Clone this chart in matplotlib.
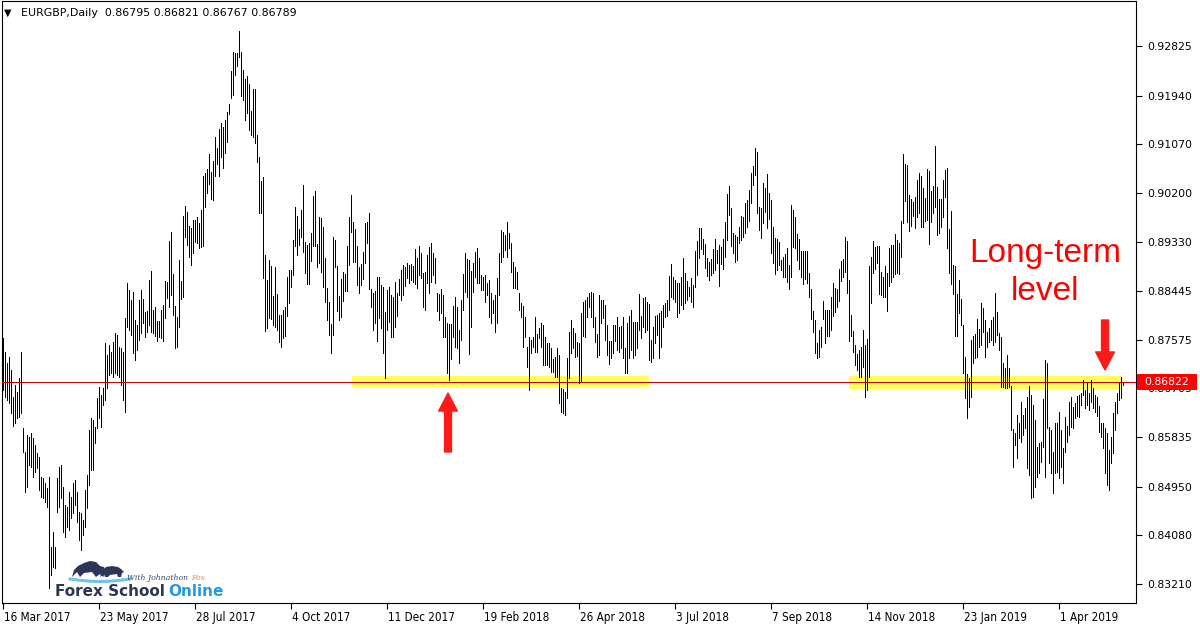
import numpy as np
import matplotlib.pyplot as plt
import matplotlib.transforms as mtransforms
from matplotlib import font_manager
from matplotlib.patches import Rectangle, Polygon

# EURGBP daily bars (high / low per bar)
highs = [
    .8761, .8736, .8716, .8727, .8703, .8655, .8677, .8664, .8689, .8736,
    .8600, .8557, .8587, .8584, .8591, .8582, .8569, .8555, .8548, .8512,
    .8510, .8501, .8493, .8512, .8387, .8414, .8387, .8510, .8530, .8534,
    .8494, .8462, .8459, .8485, .8477, .8501, .8507, .8485, .8450, .8448,
    .8435, .8489, .8516, .8596, .8618, .8614, .8602, .8653, .8673, .8659,
    .8671, .8752, .8730, .8748, .8736, .8754, .8770, .8766, .8745, .8743,
    .8736, .8796, .8859, .8846, .8829, .8843, .8793, .8784, .8829,
    .8846, .8830, .8807, .8809, .8864, .8880, .8811, .8816, .8791, .8791, .8811,
    .8820, .8862, .8861, .8934, .8950, .8875, .8818, .8798, .8900, .8862,
    .8979, .8997, .8986, .8961, .8957, .8972, .8972, .8977, .8966, .8989,
    .9050, .9056, .9063, .9090, .9057, .9077, .9120, .9100, .9134, .9145,
    .9138, .9150, .9165, .9179, .9238, .9272, .9270, .9270, .9309, .9272,
    .9240, .9224, .9229, .9215, .9166, .9206, .9206, .9124, .9084, .9041,
    .9048, .8909, .8864, .8900, .8889, .8836, .8888, .8839, .8802,
    .8802, .8811, .8816, .8870, .8882, .8882, .8936, .8995, .8979, .8955, .8989,
    .9034, .8932, .8927, .8930, .8948, .9014, .9023, .8929, .8977, .8975,
    .8959, .8904, .8850, .8825, .8786, .8941, .8936, .8889, .8836, .8866,
    .8879, .8875, .8925, .8977, .9016, .8968, .8955, .8925, .8888, .8893,
    .8914, .8966, .8968, .8984, .8848, .8841, .8845, .8870, .8870, .8855,
    .8852, .8807, .8846, .8852, .8837, .8834, .8861, .8841, .8866, .8882,
    .8891, .8888, .8895, .8891, .8893, .8889, .8920, .8904, .8925,
    .8913, .8877, .8879, .8909, .8923, .8930, .8913, .8904, .8841, .8839, .8848,
    .8837, .8798, .8787, .8786, .8786, .8818, .8834, .8816, .8775, .8829,
    .8875, .8913, .8902, .8900, .8880, .8895, .8914, .8922, .8904, .8873,
    .8870, .8873, .8859, .8864, .8841, .8829, .8837, .8868, .8913, .8954,
    .8950, .8945, .8968, .8948, .8930, .8896, .8888, .8879, .8841, .8823,
    .8818, .8798, .8745, .8762, .8757, .8762, .8798, .8768, .8779, .8787,
    .8784, .8762, .8752, .8752, .8743, .8723, .8727, .8743, .8730,
    .8671, .8670, .8664, .8725, .8771, .8793, .8779, .8770, .8754, .8752, .8805,
    .8825, .8829, .8834, .8841, .8843, .8841, .8798, .8768, .8837, .8829,
    .8829, .8820, .8784, .8755, .8755, .8784, .8784, .8798, .8780, .8782,
    .8798, .8743, .8787, .8800, .8811, .8789, .8789, .8789, .8839, .8800,
    .8832, .8834, .8825, .8822, .8757, .8780, .8800, .8802, .8805, .8809,
    .8820, .8823, .8829, .8871, .8893, .8870, .8864, .8859, .8859, .8870,
    .8904, .8877, .8862, .8852, .8868, .8855, .8916, .8934, .8957,
    .8957, .8938, .8929, .8904, .8896, .8902, .8920, .8938, .8918, .8927, .8923,
    .8938, .8968, .9018, .9032, .8993, .8948, .8945, .8941, .8959, .8979,
    .8977, .9002, .9007, .9025, .9056, .9068, .9100, .9093, .8995, .8993,
    .9038, .9029, .9054, .9020, .9007, .8959, .8939, .8938, .8932, .8900,
    .8905, .8911, .8922, .8891, .8998, .8989, .8977, .8947, .8938, .8916,
    .8916, .8916, .8916, .8877, .8848, .8809, .8793, .8752, .8775, .8780,
    .8827, .8811, .8811, .8811, .8834, .8859, .8850, .8848, .8884,
    .8898, .8902, .8941, .8934, .8864, .8802, .8773, .8748, .8732, .8739, .8745,
    .8775, .8748, .8759, .8889, .8905, .8934, .8923, .8925, .8925, .8879,
    .8870, .8889, .8877, .8922, .8927, .8927, .8947, .8936, .8930, .8970,
    .9090, .9072, .9070, .9016, .9009, .9004, .9013, .9043, .9056, .9050,
    .9029, .9011, .9063, .9059, .9023, .9032, .9104, .9031, .9009, .9009,
    .9043, .9061, .9065, .8955, .8988, .8891, .8889, .8839, .8864, .8830,
    .8784, .8727, .8696, .8689, .8757, .8764, .8768, .8795, .8777,
    .8823, .8814, .8793, .8771, .8779, .8793, .8798, .8841, .8807, .8770, .8762,
    .8716, .8707, .8730, .8707, .8675, .8598, .8591, .8623, .8609, .8646,
    .8623, .8636, .8655, .8675, .8659, .8641, .8614, .8566, .8573, .8575,
    .8652, .8721, .8716, .8602, .8596, .8557, .8609, .8609, .8628, .8596,
    .8564, .8620, .8603, .8646, .8655, .8637, .8644, .8657, .8659, .8662,
    .8686, .8668, .8680, .8662, .8686, .8671, .8659, .8655, .8639, .8609,
    .8609, .8600, .8591, .8561, .8584, .8627, .8646, .8662, .8680, .8691, .86821,
]
lows = [
    .8668, .8655, .8650, .8644, .8627, .8603, .8609, .8618, .8620, .8627,
    .8557, .8485, .8494, .8534, .8530, .8512, .8521, .8528, .8489, .8477,
    .8475, .8468, .8459, .8314, .8337, .8351, .8350, .8450, .8459, .8475,
    .8414, .8405, .8423, .8418, .8439, .8448, .8462, .8432, .8400, .8382,
    .8409, .8423, .8457, .8498, .8525, .8525, .8573, .8600, .8618, .8602,
    .8641, .8650, .8671, .8695, .8698, .8691, .8698, .8695, .8691, .8677,
    .8650, .8628, .8780, .8775, .8766, .8734, .8721, .8739, .8757,
    .8770, .8787, .8762, .8771, .8784, .8771, .8770, .8764, .8755, .8762, .8761,
    .8755, .8796, .8832, .8816, .8837, .8802, .8743, .8745, .8780, .8830,
    .8834, .8941, .8927, .8905, .8891, .8913, .8932, .8930, .8922, .8923,
    .8925, .8995, .9020, .9036, .9009, .9007, .9050, .9072, .9050, .9084,
    .9065, .9091, .9111, .9161, .9190, .9195, .9231, .9247, .9263, .9193,
    .9186, .9150, .9163, .9132, .9124, .9120, .9109, .9075, .8984, .8984,
    .8868, .8773, .8779, .8796, .8795, .8784, .8780, .8775, .8754,
    .8745, .8761, .8764, .8800, .8823, .8852, .8873, .8925, .8909, .8927, .8941,
    .8914, .8877, .8857, .8857, .8898, .8925, .8925, .8888, .8895, .8879,
    .8852, .8825, .8793, .8766, .8734, .8766, .8888, .8809, .8793, .8798,
    .8827, .8845, .8845, .8891, .8950, .8896, .8896, .8855, .8841, .8855,
    .8866, .8895, .8930, .8848, .8816, .8775, .8787, .8755, .8796, .8779,
    .8734, .8689, .8775, .8789, .8762, .8762, .8780, .8800, .8837, .8829,
    .8837, .8854, .8868, .8859, .8864, .8861, .8857, .8850, .8873,
    .8868, .8816, .8811, .8859, .8841, .8861, .8873, .8859, .8809, .8793, .8805,
    .8762, .8762, .8698, .8686, .8723, .8762, .8745, .8743, .8716, .8757,
    .8811, .8843, .8834, .8732, .8780, .8843, .8870, .8859, .8859, .8846,
    .8846, .8825, .8837, .8798, .8787, .8805, .8771, .8787, .8837, .8896,
    .8905, .8918, .8905, .8922, .8879, .8850, .8850, .8848, .8811, .8798,
    .8745, .8762, .8709, .8668, .8734, .8745, .8736, .8736, .8761, .8745,
    .8712, .8712, .8712, .8709, .8700, .8700, .8691, .8691, .8644,
    .8628, .8627, .8623, .8653, .8689, .8734, .8743, .8727, .8729, .8680, .8682,
    .8764, .8762, .8798, .8816, .8798, .8780, .8754, .8727, .8730, .8787,
    .8796, .8757, .8730, .8714, .8725, .8734, .8755, .8739, .8736, .8743,
    .8725, .8698, .8698, .8725, .8739, .8725, .8730, .8743, .8775, .8761,
    .8780, .8771, .8775, .8721, .8718, .8725, .8752, .8766, .8725, .8745,
    .8780, .8798, .8800, .8811, .8834, .8830, .8825, .8798, .8805, .8820,
    .8812, .8823, .8829, .8836, .8825, .8816, .8852, .8873, .8904,
    .8920, .8911, .8886, .8871, .8864, .8873, .8877, .8882, .8895, .8854, .8893,
    .8884, .8905, .8936, .8981, .8925, .8913, .8896, .8900, .8930, .8936,
    .8941, .8948, .8959, .8970, .9002, .9034, .9052, .8984, .8954, .8939,
    .8966, .8986, .8957, .8973, .8913, .8895, .8875, .8882, .8891, .8882,
    .8870, .8870, .8861, .8848, .8870, .8923, .8922, .8900, .8884, .8870,
    .8857, .8866, .8859, .8834, .8795, .8771, .8734, .8725, .8727, .8745,
    .8795, .8752, .8764, .8764, .8775, .8800, .8807, .8816, .8827,
    .8862, .8870, .8879, .8841, .8755, .8764, .8736, .8712, .8703, .8691, .8691,
    .8709, .8655, .8668, .8691, .8823, .8877, .8884, .8895, .8839, .8837,
    .8834, .8834, .8809, .8854, .8861, .8870, .8875, .8877, .8875, .8905,
    .8966, .9006, .8968, .8952, .8961, .8979, .8957, .8977, .8984, .8959,
    .8959, .8970, .8972, .8929, .8968, .8984, .8995, .8945, .8948, .8959,
    .8977, .9013, .8922, .8877, .8857, .8839, .8764, .8764, .8805, .8784,
    .8698, .8653, .8618, .8637, .8655, .8716, .8725, .8727, .8745,
    .8748, .8771, .8727, .8745, .8754, .8757, .8748, .8754, .8766, .8739, .8673,
    .8673, .8671, .8671, .8673, .8596, .8530, .8569, .8546, .8582, .8575,
    .8587, .8600, .8528, .8516, .8475, .8477, .8494, .8512, .8519, .8539,
    .8566, .8512, .8600, .8537, .8519, .8484, .8519, .8521, .8510, .8530,
    .8501, .8557, .8575, .8587, .8602, .8600, .8618, .8621, .8620, .8641,
    .8659, .8636, .8641, .8632, .8646, .8636, .8628, .8621, .8593, .8584,
    .8564, .8519, .8498, .8489, .8537, .8555, .8596, .8627, .8650, .8653, .86767,
]
assert len(highs) == len(lows) == 561, (len(highs), len(lows))

date_labels = ['16 Mar 2017', '23 May 2017', '28 Jul 2017', '4 Oct 2017',
               '11 Dec 2017', '19 Feb 2018', '26 Apr 2018', '3 Jul 2018',
               '7 Sep 2018', '14 Nov 2018', '23 Jan 2019', '1 Apr 2019']
price_ticks = [0.92825, 0.91940, 0.91070, 0.90200, 0.89330, 0.88445,
               0.87575, 0.86705, 0.85835, 0.84950, 0.84080, 0.83210]
last_ohlc = [0.86795, 0.86821, 0.86767, 0.86789]
level = 0.86822

# --- layout (pixels of the 1200x627 picture) ---
W, H = 1200, 627
AX_L, AX_R, AX_T, AX_B = 2, 1136, 1, 603
P0, DP = 0.93647, 0.00017872       # price scale: price at pixel row 0, price per row
X0 = -0.65                           # bar index at left frame, 2 px per bar


def price_at(py):
    return P0 - DP * py


def bar_at(px):
    return X0 + (px - AX_L) / 2


def fx(px):
    return px / W


def fy(py):
    return 1 - py / H


plt.rcParams['font.family'] = ['DejaVu Sans']
fonts = font_manager.fontManager.ttflist
if any(f.name == 'DejaVu Sans' and str(f.stretch) in ('condensed', '300') for f in fonts):
    date_font = dict(family='DejaVu Sans', stretch='condensed', fontsize=8.4)
else:
    date_font = dict(family='DejaVu Sans', fontsize=7.7)

fig = plt.figure(figsize=(W / 100, H / 100), dpi=100)
ax = fig.add_axes([AX_L / W, 1 - AX_B / H, (AX_R - AX_L) / W, (AX_B - AX_T) / H])
ax.set_xlim(X0, X0 + (AX_R - AX_L) / 2)
ax.set_ylim(price_at(AX_B), price_at(AX_T))

x = np.arange(len(highs))
ax.vlines(x, lows, highs, colors='black', linewidth=0.72, antialiased=False, zorder=3)

# yellow zones behind the bars
for px0, px1, py0, py1 in [(352, 649, 376, 387), (849, 1122, 376, 389)]:
    ax.add_patch(Rectangle((bar_at(px0), price_at(py1)), (px1 - px0) / 2,
                           price_at(py0) - price_at(py1),
                           facecolor='#ffff5a', edgecolor='none', zorder=1))

ax.axhline(level, color='#c00000', linewidth=0.72, zorder=4)

# red arrows
arrow = dict(arrowstyle='simple,head_length=1.3,head_width=1.35,tail_width=0.5',
             color='#ff1a1a', shrinkA=0, shrinkB=0, mutation_scale=10)
ax.annotate('', xy=(bar_at(448), price_at(393)), xytext=(bar_at(448), price_at(452)),
            arrowprops=arrow, zorder=5)
ax.annotate('', xy=(bar_at(1105), price_at(370)), xytext=(bar_at(1105), price_at(320)),
            arrowprops=arrow, zorder=5)

ax.text(bar_at(1045), price_at(262), 'Long-term', color='#ff0000', fontsize=24,
        family='Liberation Sans', ha='center', va='baseline', zorder=5)
ax.text(bar_at(1045), price_at(300), 'level', color='#ff0000', fontsize=24,
        family='Liberation Sans', ha='center', va='baseline', zorder=5)

# axes styling
for s in ax.spines.values():
    s.set_linewidth(0.8)
    s.set_color('black')

ax.yaxis.tick_right()
ax.set_yticks(price_ticks)
ax.set_yticklabels([f'{v:.5f}' for v in price_ticks])
ax.tick_params(axis='y', direction='out', length=4, width=0.8, pad=4, labelsize=7.8)

ax.set_xticks(np.arange(len(date_labels)) * 48)
ax.set_xticklabels(date_labels, **date_font)
ax.tick_params(axis='x', direction='out', length=4, width=0.8, pad=2)
shift = mtransforms.ScaledTranslation(1 / 100, 0, fig.dpi_scale_trans)
for lbl in ax.get_xticklabels():
    lbl.set_ha('left')
    lbl.set_transform(lbl.get_transform() + shift)

# current price tag on the price scale
blend = mtransforms.blended_transform_factory(ax.transAxes, ax.transData)
ax.add_patch(Rectangle((1.0009, price_at(390)), 60 / (AX_R - AX_L),
                       price_at(374) - price_at(390), transform=blend,
                       facecolor='#ff0000', edgecolor='none', clip_on=False, zorder=6))
ax.text(1.0009 + 30 / (AX_R - AX_L), level, f'{level:.5f}', transform=blend,
        color='white', fontsize=7.8, ha='center', va='center', clip_on=False, zorder=7)

# header
fig.text(fx(4), fy(13), '\u25bc', fontsize=7, va='center')
fig.text(fx(21), fy(13),
         'EURGBP,Daily  ' + ' '.join(f'{v:.5f}' for v in last_ohlc),
         fontsize=7.9, va='center')

# logo
fig.text(fx(55), fy(596), 'Forex School', fontsize=11, fontweight='bold',
         color='#2b3658', va='baseline')
fig.text(fx(168), fy(596), 'Online', fontsize=11, fontweight='bold',
         color='#1f9be3', va='baseline')
with_txt = fig.text(fx(127), fy(580), 'With Johnathon', fontsize=5.6, style='italic',
                    family='DejaVu Serif', color='#3c4868', va='baseline')
fig.canvas.draw()
bb = with_txt.get_window_extent()
fig.text((bb.x1 + 3) / W, fy(580), 'Fox', fontsize=5.6, style='italic',
         family='DejaVu Serif', color='#e4893a', va='baseline')

t = np.linspace(0, 1, 30)
fig.add_artist(plt.Line2D(fx(70 + 60 * t), fy(579 + 2.5 * np.sin(np.pi * t)),
                          color='#6fc3ec', linewidth=2.2))
bull = [(72, 577), (74, 570), (78, 566), (84, 563), (90, 561), (96, 562), (100, 566),
        (104, 567), (106, 572), (103, 577), (100, 574), (96, 577), (92, 572),
        (84, 573), (80, 577), (77, 572)]
bear = [(100, 577), (102, 571), (106, 567), (112, 566), (118, 567), (121, 569),
        (124, 572), (122, 573), (121, 577), (118, 577), (117, 574), (110, 575),
        (108, 577), (105, 577), (104, 574)]
for shape in (bull, bear):
    fig.add_artist(Polygon([(fx(a), fy(b)) for a, b in shape], closed=True,
                           facecolor='#2b3658', edgecolor='none',
                           transform=fig.transFigure))

fig.savefig('out.png', dpi=100)
